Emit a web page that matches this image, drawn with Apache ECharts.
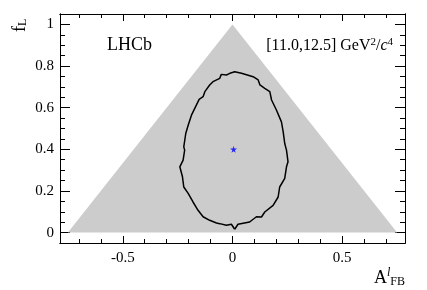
<!DOCTYPE html>
<html><head><meta charset="utf-8">
<script src="https://cdn.jsdelivr.net/npm/echarts@6/dist/echarts.min.js"></script>
<style>html,body{margin:0;padding:0;background:#fff}#c{width:427px;height:290px}</style>
</head><body><div id="c"></div>
<script>
// Physical region (triangle) vertices
var triX = [-0.75, 0, 0.75];
var triY = [0, 1, 0];
// 68% contour (A_FB, f_L)
var contX = [0.010,-0.005,-0.028,-0.058,-0.073,-0.104,-0.134,-0.157,-0.180,-0.202,-0.222,-0.228,-0.240,-0.225,-0.218,-0.222,-0.213,-0.202,-0.187,-0.172,-0.152,-0.134,-0.126,-0.104,-0.089,-0.058,-0.051,-0.028,-0.012,0.010,0.041,0.094,0.117,0.125,0.147,0.170,0.178,0.200,0.223,0.231,0.238,0.246,0.253,0.246,0.238,0.215,0.208,0.185,0.147,0.132,0.109,0.078,0.025,0.010];
var contY = [0.016,0.040,0.035,0.043,0.046,0.059,0.076,0.107,0.147,0.188,0.219,0.268,0.316,0.348,0.396,0.412,0.476,0.516,0.564,0.597,0.640,0.653,0.677,0.709,0.725,0.741,0.760,0.757,0.765,0.773,0.765,0.749,0.733,0.709,0.693,0.677,0.637,0.589,0.532,0.484,0.428,0.396,0.340,0.316,0.260,0.219,0.171,0.131,0.099,0.075,0.076,0.051,0.040,0.016];
// Best fit point
var bestX = [0.005];
var bestY = [0.40];
// Ticks
var xMajor = [-0.5, 0, 0.5];
var xMinor = [-0.7,-0.6,-0.4,-0.3,-0.2,-0.1,0.1,0.2,0.3,0.4,0.6,0.7];
var yMajor = [0, 0.2, 0.4, 0.6, 0.8, 1];
var yMinor = [0.05,0.1,0.15,0.25,0.3,0.35,0.45,0.5,0.55,0.65,0.7,0.75,0.85,0.9,0.95,1.05];

var FONT = "'Liberation Serif','DejaVu Serif',serif";
var XMIN = -0.786, XMAX = 0.786, YMIN = -0.05, YMAX = 1.05;

function xa(pos, vals, len, labels) {
  return {
    type: 'value', position: pos, min: XMIN, max: XMAX, gridIndex: 0,
    axisLine: {show: true, onZero: false, lineStyle: {color: '#000', width: 1}},
    axisTick: {show: true, inside: true, length: len, customValues: vals, lineStyle: {color: '#000', width: 1}},
    axisLabel: labels ? {show: true, customValues: vals, margin: 8, color: '#000', fontFamily: FONT, fontSize: 15,
      formatter: function (v) { return String(v); }} : {show: false},
    splitLine: {show: false}
  };
}
function ya(pos, vals, len, labels) {
  return {
    type: 'value', position: pos, min: YMIN, max: YMAX, gridIndex: 0,
    axisLine: {show: true, onZero: false, lineStyle: {color: '#000', width: 1}},
    axisTick: {show: true, inside: true, length: len, customValues: vals, lineStyle: {color: '#000', width: 1}},
    axisLabel: labels ? {show: true, customValues: vals, margin: 6, color: '#000', fontFamily: FONT, fontSize: 15,
      formatter: function (v) { return String(v); }} : {show: false},
    splitLine: {show: false}
  };
}

var chart = echarts.init(document.getElementById('c'), null, {renderer: 'canvas'});
chart.setOption({
  animation: false,
  backgroundColor: '#fff',
  grid: {left: 60, right: 22, top: 14, bottom: 47, containLabel: false},
  xAxis: [xa('bottom', xMajor, 7, true), xa('bottom', xMinor, 4, false), xa('top', xMajor, 7, false), xa('top', xMinor, 4, false)],
  yAxis: [ya('left', yMajor, 10, true), ya('left', yMinor, 5, false), ya('right', yMajor, 10, false), ya('right', yMinor, 5, false)],
  series: [
    {
      type: 'custom', xAxisIndex: 0, yAxisIndex: 0, z: 1,
      data: [[0, 0]],
      renderItem: function (params, api) {
        var pts = triX.map(function (x, i) { return api.coord([x, triY[i]]); });
        return {type: 'polygon', shape: {points: pts}, style: {fill: '#cccccc', stroke: null}};
      }
    },
    {
      type: 'line', xAxisIndex: 0, yAxisIndex: 0, z: 3,
      data: contX.map(function (x, i) { return [x, contY[i]]; }),
      showSymbol: false, symbol: 'none', smooth: false,
      lineStyle: {color: '#000', width: 1.5}
    },
    {
      type: 'scatter', xAxisIndex: 0, yAxisIndex: 0, z: 4,
      data: bestX.map(function (x, i) { return [x, bestY[i]]; }),
      symbol: 'path://M50,0 L61,35 98,35 68,57 79,91 50,70 21,91 32,57 2,35 39,35 Z',
      symbolSize: 7, itemStyle: {color: '#0000ff'}
    }
  ],
  graphic: [
    {type: 'text', x: 107, y: 45, z: 10, style: {text: 'LHCb', fontFamily: FONT, fontSize: 18, fill: '#000', textVerticalAlign: 'middle'}},
    {type: 'text', x: 393, y: 46, z: 10, style: {
      text: '{n|[11.0,12.5] GeV}{s|2}{n|/}{i|c}{s|4}', textAlign: 'right', textVerticalAlign: 'middle',
      rich: {
        n: {fontFamily: FONT, fontSize: 16, fill: '#000'},
        i: {fontFamily: FONT, fontSize: 16, fontStyle: 'italic', fill: '#000'},
        s: {fontFamily: FONT, fontSize: 11, fill: '#000', verticalAlign: 'top', padding: [0, 0, 7, 0]}
      }}},
    {type: 'text', x: 20, y: 32, rotation: Math.PI / 2, z: 10, style: {
      text: '{a|f}{b|L}', textAlign: 'left', textVerticalAlign: 'middle',
      rich: {
        a: {fontFamily: FONT, fontSize: 18, fill: '#000'},
        b: {fontFamily: FONT, fontSize: 12, fill: '#000', padding: [6, 0, 0, 0]}
      }}},
    {type: 'text', x: 405, y: 278, z: 10, style: {
      text: '{a|A}{s|l}{b|FB}', textAlign: 'right', textVerticalAlign: 'middle',
      rich: {
        a: {fontFamily: FONT, fontSize: 18, fill: '#000'},
        s: {fontFamily: FONT, fontSize: 12, fontStyle: 'italic', fill: '#000', padding: [0, 0, 10, 0]},
        b: {fontFamily: FONT, fontSize: 12, fill: '#000', padding: [8, 0, 0, 0]}
      }}}
  ]
});
</script></body></html>
